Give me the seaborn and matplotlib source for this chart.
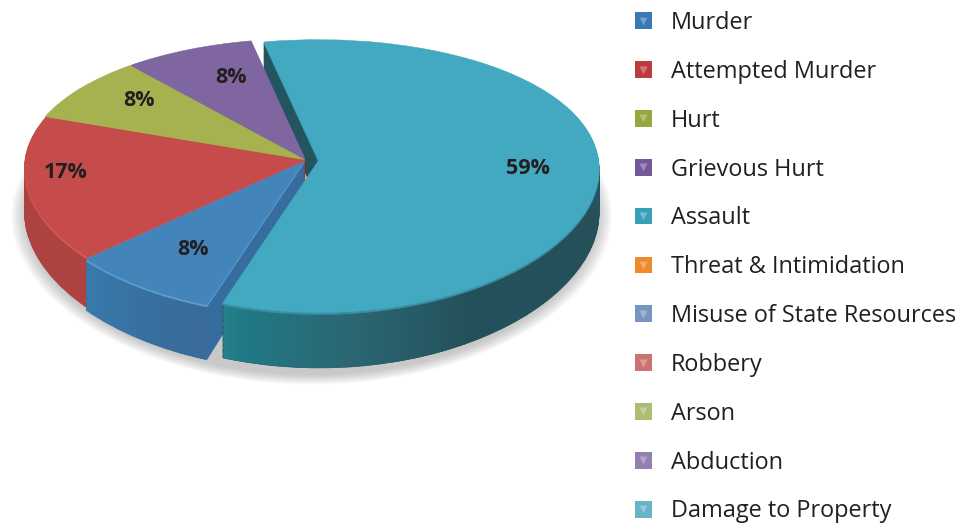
#!/usr/bin/env python3
"""Crime type shares drawn as a tilted, extruded pie with a long legend."""

import numpy as np
import matplotlib
matplotlib.use("Agg")
import matplotlib.pyplot as plt
import seaborn as sns
from matplotlib.colors import LinearSegmentedColormap
from matplotlib.lines import Line2D
from matplotlib.patches import Patch
from matplotlib.path import Path
from matplotlib.transforms import IdentityTransform, Transform

categories = ["Murder", "Attempted Murder", "Hurt", "Grievous Hurt", "Assault",
              "Threat & Intimidation", "Misuse of State Resources", "Robbery",
              "Arson", "Abduction", "Damage to Property"]
shares = [8.1, 17.0, 8.35, 8.0, 58.55, 0, 0, 0, 0, 0, 0]

top_colors = ["#4384bb", "#c54c4a", "#a6b24f", "#7f66a1", "#42a9c0", "#f79646",
              "#7f9fc6", "#d17d7b", "#b4c67d", "#9d88b8", "#6fbdd2"]
side_colors = ["#366c9e", "#ad4240", "#4f5a2c", "#47365f", "#235561", "#c0701f",
               "#5d7da6", "#a85a58", "#8a9c5a", "#75608f", "#4a97ab"]
rim_colors = ["#5d9dcc", "#d65f59", "#a6b24f", "#7f66a1", "#3a8fa3", "#f79646",
              "#7f9fc6", "#d17d7b", "#b4c67d", "#9d88b8", "#6fbdd2"]
swatch_colors = ["#3a78b4", "#bf3a3c", "#95a83f", "#73599a", "#35a0b8", "#ec8a2e",
                 "#7496c0", "#cb7371", "#aabd72", "#9480b0", "#66b4c9"]
explode = [0.015, 0.004, 0.008, 0.008, 0.045, 0, 0, 0, 0, 0, 0]
no_explode = [0] * len(shares)
label_offsets = [(5, 3), (-33, 8), (8, 5), (19, -2), (0, -2)]

START = 251
DEPTH = 0.31
TILT = 0.115
TILT_X = 0.06
CENTER_PX = (306, 160)
UNIT_X = 280
UNIT_Y = 134.5
W, H = 959, 526


def forward(y):
    return y / (1 + TILT * y)


def inverse(f):
    return f / (1 - TILT * f)


def px_x(px):
    return (px - CENTER_PX[0]) / UNIT_X


class NarrowFarSide(Transform):
    """Squeeze x on the far side of a layer, widen it on the near side."""
    input_dims = output_dims = 2

    def __init__(self, base_y):
        super().__init__()
        self.base_y = base_y

    def transform_non_affine(self, values):
        values = np.array(values, dtype=float)
        values[:, 0] /= 1 + TILT_X * (values[:, 1] - self.base_y)
        return values


def draw_pie(ax, colors, center=(0, 0), radius=1.0, alpha=None, pull=explode, **kwargs):
    result = ax.pie(shares, colors=colors, explode=pull, startangle=START,
                    counterclock=False, center=center, radius=radius,
                    wedgeprops=dict(linewidth=0, alpha=alpha), **kwargs)
    for patch, color, share in zip(result[0], colors, shares):
        patch.set_transform(NarrowFarSide(center[1]) + ax.transData)
        # empty categories only belong in the legend
        patch.set_visible(share > 0)
        if alpha is None:
            # hairline in the slice colour hides the seams between layers
            patch.set_edgecolor(color)
            patch.set_linewidth(0.4)
    return result


def shade_side(ax, wedges, x_px, stops, y_top):
    # gradient along the wall of one slice, clipped to its extruded outline
    xs = np.linspace(px_x(x_px[0]), px_x(x_px[-1]), 120)
    ys = np.array([-1.7, y_top])
    cmap = LinearSegmentedColormap.from_list(
        "side", [((p - x_px[0]) / (x_px[-1] - x_px[0]), c) for p, c in zip(x_px, stops)])
    mesh = ax.pcolormesh(xs, ys, xs[:-1].reshape(1, -1), cmap=cmap, zorder=2,
                         shading="flat", linewidth=0, rasterized=True)
    paths = [w.get_transform().transform_path(w.get_path()) for w in wedges]
    mesh.set_clip_path(Path.make_compound_path(*paths), IdentityTransform())


sns.set_theme(style="white")
plt.rcParams["font.family"] = ["Open Sans", "DejaVu Sans"]

fig = plt.figure(figsize=(W / 100, H / 100), dpi=100, facecolor="white")
ax = fig.add_axes([0, 0, 1, 1])

ax.set_yscale("function", functions=(forward, inverse))

# soft drop shadow
for r in np.linspace(1.07, 1.02, 9):
    draw_pie(ax, ["#777777"] * len(shares), center=(0.02, -DEPTH - 0.02), radius=r,
             alpha=0.05, pull=no_explode)

# extruded wall, back to front
murder_wall, assault_wall = [], []
for d in np.linspace(DEPTH, 0.012, 45):
    patches = draw_pie(ax, side_colors, center=(0, -d))[0]
    murder_wall.append(patches[0])
    assault_wall.append(patches[4])
rim = draw_pie(ax, rim_colors, center=(0, -0.012))[0]
for p in rim:
    p.set_zorder(3)

# top face with the percentage labels
top = draw_pie(ax, top_colors,
               autopct=lambda pct: f"{pct:.0f}%" if pct > 0.5 else "",
               pctdistance=0.75,
               textprops=dict(fontsize=15.5, fontweight="bold", color="#231f20"))
for p in top[0]:
    p.set_zorder(4)
for t in top[2]:
    t.set_zorder(5)

ax.set_aspect("auto")
ax.set_xlim(px_x(0), px_x(W))
ax.set_ylim(inverse((CENTER_PX[1] - H) / UNIT_Y), inverse(CENTER_PX[1] / UNIT_Y))
ax.set_axis_off()

# nudge the labels by whole pixels, the way they sit in the picture
for t, (dx, dy) in zip(top[2], label_offsets):
    x_disp, y_disp = ax.transData.transform(t.get_position())
    t.set_position(ax.transData.inverted().transform((x_disp + dx, y_disp + dy)))

shade_side(ax, assault_wall, [205, 240, 350, 470, 600],
           ["#2f8490", "#1f7a86", "#2b6672", "#23515b", "#25505a"], -0.35)
shade_side(ax, murder_wall, [70, 150, 206],
           ["#3a7cb0", "#376f9f", "#3a6a98"], -0.62)

handles = [(Patch(facecolor=c, edgecolor="none"),
            Line2D([], [], linestyle="none", marker="v", markersize=6,
                   markerfacecolor="white", markeredgecolor="none", alpha=0.3))
           for c in swatch_colors]
ax.legend(handles, categories, loc="upper left",
          bbox_to_anchor=(635 / W, 1 - 11 / H), frameon=False, fontsize=16.9,
          labelcolor="#231f20", borderpad=0, borderaxespad=0,
          handlelength=0.72, handleheight=0.72, handletextpad=0.82, labelspacing=1.058)

fig.savefig("out.png", dpi=100, facecolor="white")
